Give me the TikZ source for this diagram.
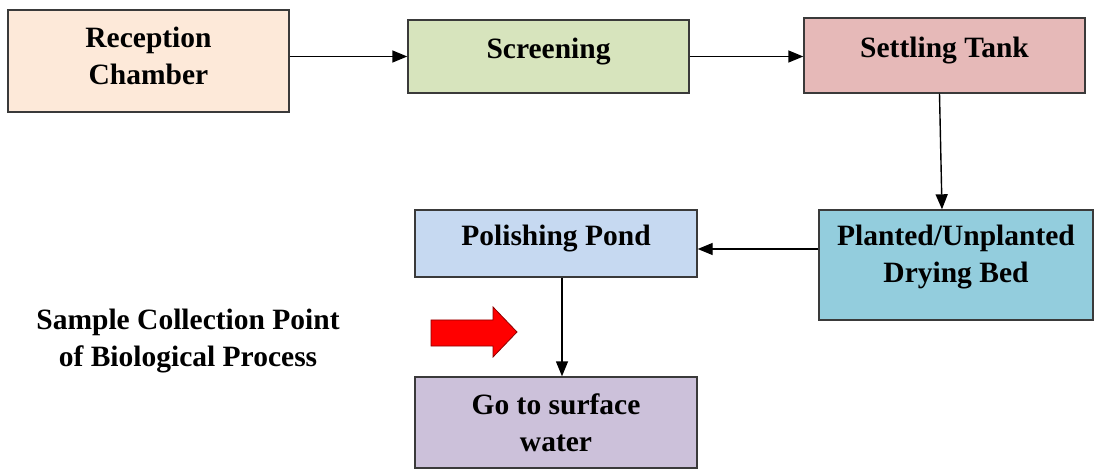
\documentclass[tikz,border=0pt]{standalone}
\usepackage{fontspec}
\setmainfont{Liberation Serif}
\usepackage{tikz}
\usetikzlibrary{arrows.meta}

\definecolor{recep}{HTML}{FDE9D9}
\definecolor{screen}{HTML}{D7E4BD}
\definecolor{settle}{HTML}{E6B9B8}
\definecolor{dryb}{HTML}{93CDDD}
\definecolor{polish}{HTML}{C6D9F1}
\definecolor{surf}{HTML}{CCC1DA}
\definecolor{edge}{HTML}{3A3A3A}

\tikzset{
  stage/.style={draw=edge, line width=1.4pt, inner sep=0pt},
  stagetext/.style={align=center, yshift=5pt, inner sep=0pt,
    font=\fontsize{29.5}{37}\selectfont\bfseries},
  flow/.style={-{Triangle[length=15pt,width=12pt]}, line width=1.4pt}
}

\begin{document}
\begin{tikzpicture}[x=1pt,y=-1pt]
  \useasboundingbox (0,0) rectangle (1095,470);

  \node[stage, fill=recep, minimum width=281, minimum height=102,
    label={[stagetext]center:{Reception\\Chamber}}] (rc) at (148.5,61) {};
  \node[stage, fill=screen, minimum width=281, minimum height=73,
    label={[stagetext]center:Screening}] (scr) at (548.5,56.5) {};
  \node[stage, fill=settle, minimum width=281, minimum height=75,
    label={[stagetext]center:Settling Tank}] (st) at (944.5,55.5) {};
  \node[stage, fill=dryb, minimum width=274, minimum height=110,
    label={[stagetext,yshift=3pt]center:{Planted/Unplanted\\Drying Bed}}] (pd) at (956,265) {};
  \node[stage, fill=polish, minimum width=282, minimum height=67,
    label={[stagetext]center:Polishing Pond}] (pp) at (556,243.5) {};
  \node[stage, fill=surf, minimum width=282, minimum height=91,
    label={[stagetext,yshift=-5pt]center:{Go to surface\\water}}] (gw) at (556,422.5) {};

  \node[align=center, font=\fontsize{29.5}{37}\selectfont\bfseries] (note) at (188,341)
    {Sample Collection Point\\of Biological Process};

  % red pointer
  \draw[fill=red, draw=red!55!black, line width=0.8pt]
    (431,320) -- (493,320) -- (493,307) -- (517,332) -- (493,357) -- (493,346) -- (431,346) -- cycle;

  \draw[flow] (rc.east |- scr.west) -- (scr.west);
  \draw[flow] (scr.east) -- (st.west |- scr.east);
  \draw[flow] ([xshift=-5pt]st.south) -- ([xshift=-14pt]pd.north);
  \draw[flow] ([yshift=16pt]pd.west) -- ([yshift=-5.5pt]pp.east);
  \draw[flow] ([xshift=6pt]pp.south) -- ([xshift=6pt]gw.north);
\end{tikzpicture}
\end{document}
